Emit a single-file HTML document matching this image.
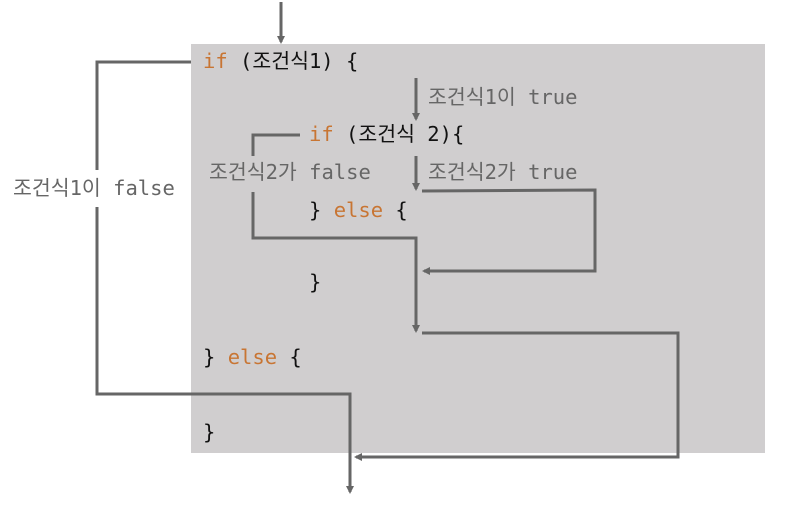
<!DOCTYPE html>
<html><head><meta charset="utf-8"><style>
html,body{margin:0;padding:0;background:#fff;width:790px;height:506px;overflow:hidden}
svg text{font-family:"DejaVu Sans Mono","Noto Sans CJK KR",monospace;font-size:20.5px}
.k{fill:#111}.o{fill:#c87533}.g{fill:#666}
</style></head><body>
<svg width="790" height="506" viewBox="0 0 790 506">
<defs><marker id="a" markerWidth="8" markerHeight="8" refX="6" refY="4" orient="auto" markerUnits="userSpaceOnUse"><path d="M0,0 L8,4 L0,8 z" fill="#666"/></marker></defs>
<rect x="191" y="44" width="574" height="409" fill="#d0cecf"/>
<g stroke="#666" stroke-width="3" fill="none">
<path d="M281,2 V42" marker-end="url(#a)"/>
<path d="M191,62 H97 V170"/>
<path d="M97,207 V394 H350 V492" marker-end="url(#a)"/>
<path d="M416,78 V119" marker-end="url(#a)"/>
<path d="M300,135 H253 V156"/>
<path d="M253,192 V238 H416 V331" marker-end="url(#a)"/>
<path d="M416,156 V189" marker-end="url(#a)"/>
<path d="M422,191 L595,190 V271 H424" marker-end="url(#a)"/>
<path d="M422,333 H678 V457 H356" marker-end="url(#a)"/>
</g>
<text x="203" y="68"><tspan class="o">if</tspan><tspan class="k"> (조건식1) {</tspan></text>
<text x="428" y="104" class="g">조건식1이 true</text>
<text x="309" y="141"><tspan class="o">if</tspan><tspan class="k"> (조건식 2){</tspan></text>
<text x="209" y="179" class="g">조건식2가 false</text>
<text x="428" y="179" class="g">조건식2가 true</text>
<text x="13" y="195" class="g">조건식1이 false</text>
<text x="309" y="217"><tspan class="k">} </tspan><tspan class="o">else</tspan><tspan class="k"> {</tspan></text>
<text x="309" y="289" class="k">}</text>
<text x="203" y="364"><tspan class="k">} </tspan><tspan class="o">else</tspan><tspan class="k"> {</tspan></text>
<text x="203" y="439" class="k">}</text>
</svg>
</body></html>
